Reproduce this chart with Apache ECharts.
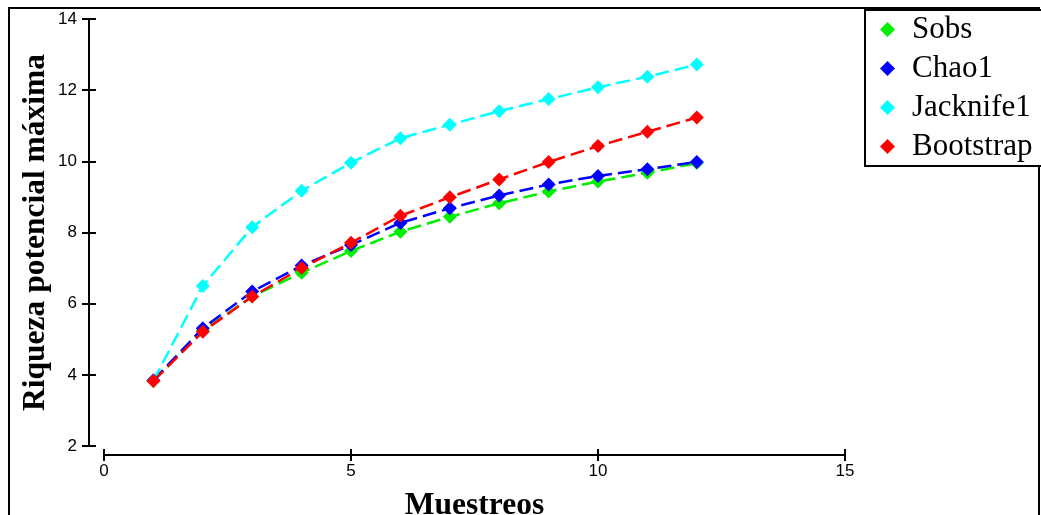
<!DOCTYPE html>
<html>
<head>
<meta charset="utf-8">
<script src="https://cdn.jsdelivr.net/npm/echarts@6/dist/echarts.min.js"></script>
<style>html,body{margin:0;padding:0;background:#fff;overflow:hidden}#c{width:1041px;height:515px}</style>
</head>
<body>
<div id="c"></div>
<script>
const samples = [1,2,3,4,5,6,7,8,9,10,11,12];
const sobs      = [3.83,5.25,6.2,6.87,7.48,8.02,8.44,8.82,9.15,9.43,9.68,9.95];
const chao1     = [3.85,5.31,6.34,7.07,7.65,8.27,8.68,9.04,9.35,9.59,9.78,9.98];
const jacknife1 = [3.83,6.5,8.15,9.17,9.96,10.65,11.03,11.41,11.75,12.08,12.38,12.72];
const bootstrap = [3.83,5.21,6.2,7.0,7.71,8.47,8.99,9.49,9.98,10.43,10.83,11.23];
const seriesNames = ['Sobs','Chao1','Jacknife1','Bootstrap'];
const seriesData = [sobs, chao1, jacknife1, bootstrap];
const colors = ['#00ee00','#0000ff','#00ffff','#ff0000'];

const chart = echarts.init(document.getElementById('c'), null, {width:1041, height:515});
const sans = 'Liberation Sans';
const serif = 'Liberation Serif';

const xBase = {
  type:'value', min:0, max:15, interval:5, position:'bottom', offset:9,
  axisLine:{show:true, onZero:false, lineStyle:{color:'#000', width:2}},
  splitLine:{show:false}
};
const yBase = {
  type:'value', min:2, max:14, interval:2, position:'left', offset:15,
  axisLine:{show:true, onZero:false, lineStyle:{color:'#000', width:2}},
  splitLine:{show:false}
};

chart.setOption({
  animation:false,
  backgroundColor:'#fff',
  color: colors,
  grid:{left:104, width:741, top:19, height:427, containLabel:false, outerBoundsMode:'none'},
  xAxis:[
    Object.assign({}, xBase, {
      axisTick:{show:true, inside:false, length:6, lineStyle:{color:'#000', width:2}},
      axisLabel:{color:'#000', fontFamily:sans, fontSize:17, margin:8},
      name:'Muestreos', nameLocation:'middle', nameGap:35,
      nameTextStyle:{fontFamily:serif, fontWeight:'bold', fontSize:31.5, color:'#000'}
    }),
    Object.assign({}, xBase, {
      axisTick:{show:true, inside:true, length:6, lineStyle:{color:'#000', width:2}},
      axisLabel:{show:false}
    })
  ],
  yAxis:[
    Object.assign({}, yBase, {
      axisTick:{show:true, inside:false, length:7, lineStyle:{color:'#000', width:2}},
      axisLabel:{color:'#000', fontFamily:sans, fontSize:17, margin:12},
      name:'Riqueza potencial máxima', nameLocation:'middle', nameGap:37, nameMoveOverlap:false,
      nameTextStyle:{fontFamily:serif, fontWeight:'bold', fontSize:31.5, color:'#000'}
    }),
    Object.assign({}, yBase, {
      axisTick:{show:true, inside:true, length:7, lineStyle:{color:'#000', width:2}},
      axisLabel:{show:false}
    })
  ],
  legend:{
    orient:'vertical', left:880, top:14, padding:0, itemGap:8,
    itemWidth:15, itemHeight:15, icon:'diamond',
    data: seriesNames,
    textStyle:{fontFamily:serif, fontSize:31, lineHeight:31, color:'#000', padding:[0,0,0,12]}
  },
  graphic:[
    {type:'rect', shape:{x:9, y:8, width:1030, height:600}, style:{fill:'none', stroke:'#000', lineWidth:2}, z:-1},
    {type:'rect', shape:{x:865, y:10, width:180, height:156}, style:{fill:'#fff', stroke:'#000', lineWidth:2}, z:-1}
  ],
  series: seriesNames.map((n,i)=>({
    name:n, type:'line',
    data: samples.map((s,j)=>[s, seriesData[i][j]]),
    symbol:'diamond', symbolSize:14,
    lineStyle:{width:2.5, type:[14,6], color:colors[i]},
    itemStyle:{color:colors[i]}
  }))
});
</script>
</body>
</html>
